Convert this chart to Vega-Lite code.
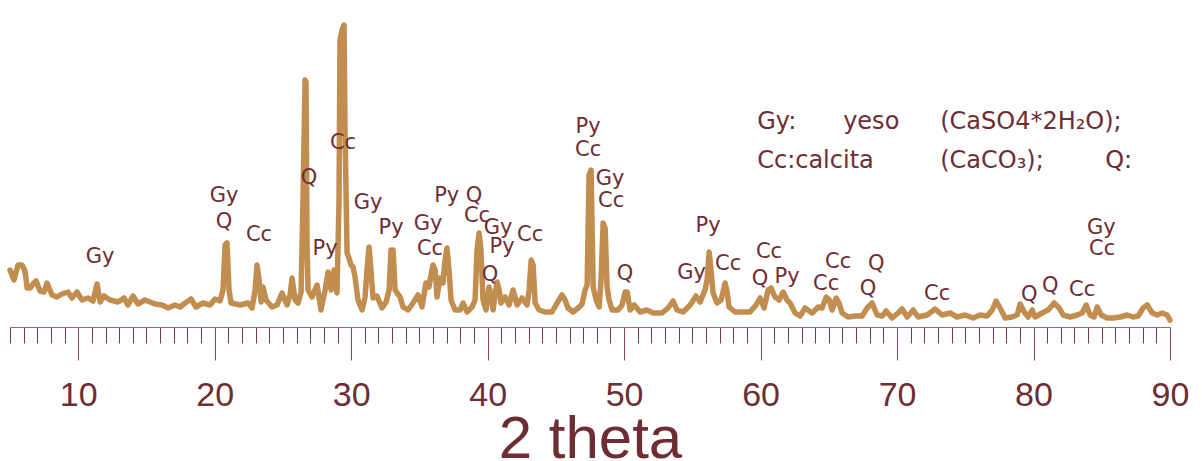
{
  "$schema": "https://vega.github.io/schema/vega-lite/v6.json",
  "width": 1160,
  "height": 316,
  "autosize": {"type": "none"},
  "padding": {"left": 10, "top": 11, "right": 32, "bottom": 134},
  "background": "#ffffff",
  "config": {"view": {"stroke": null}},
  "datasets": {
    "pattern": [
      {"t": 5.00, "i": 57}, {"t": 5.29, "i": 47}, {"t": 5.59, "i": 62}, {"t": 5.88, "i": 62}, {"t": 6.10, "i": 56},
      {"t": 6.25, "i": 39}, {"t": 6.47, "i": 39}, {"t": 6.69, "i": 43}, {"t": 6.91, "i": 46}, {"t": 7.20, "i": 36},
      {"t": 7.49, "i": 35}, {"t": 7.71, "i": 44}, {"t": 8.08, "i": 32}, {"t": 8.44, "i": 30}, {"t": 8.81, "i": 33},
      {"t": 9.25, "i": 35}, {"t": 9.54, "i": 29}, {"t": 9.91, "i": 35}, {"t": 10.28, "i": 27}, {"t": 10.72, "i": 29},
      {"t": 11.08, "i": 26}, {"t": 11.38, "i": 43}, {"t": 11.60, "i": 25}, {"t": 11.89, "i": 31}, {"t": 12.33, "i": 27},
      {"t": 12.92, "i": 25}, {"t": 13.35, "i": 29}, {"t": 13.65, "i": 22}, {"t": 14.01, "i": 31}, {"t": 14.38, "i": 23},
      {"t": 14.89, "i": 27}, {"t": 15.26, "i": 25}, {"t": 15.63, "i": 23}, {"t": 16.14, "i": 22}, {"t": 16.58, "i": 19},
      {"t": 17.09, "i": 22}, {"t": 17.46, "i": 20}, {"t": 17.83, "i": 24}, {"t": 18.26, "i": 28}, {"t": 18.63, "i": 20},
      {"t": 19.14, "i": 24}, {"t": 19.66, "i": 22}, {"t": 20.02, "i": 28}, {"t": 20.39, "i": 26}, {"t": 20.61, "i": 37},
      {"t": 20.76, "i": 82}, {"t": 20.90, "i": 84}, {"t": 21.05, "i": 37}, {"t": 21.20, "i": 24}, {"t": 21.86, "i": 22},
      {"t": 22.44, "i": 24}, {"t": 22.74, "i": 19}, {"t": 22.96, "i": 37}, {"t": 23.10, "i": 62}, {"t": 23.25, "i": 47},
      {"t": 23.40, "i": 25}, {"t": 23.54, "i": 40}, {"t": 23.76, "i": 27}, {"t": 24.20, "i": 20}, {"t": 24.57, "i": 22},
      {"t": 24.93, "i": 34}, {"t": 25.30, "i": 22}, {"t": 25.52, "i": 32}, {"t": 25.67, "i": 49}, {"t": 25.89, "i": 27},
      {"t": 26.11, "i": 24}, {"t": 26.33, "i": 35}, {"t": 26.47, "i": 127}, {"t": 26.62, "i": 247}, {"t": 26.69, "i": 245},
      {"t": 26.77, "i": 77}, {"t": 26.84, "i": 37}, {"t": 27.13, "i": 30}, {"t": 27.50, "i": 42}, {"t": 27.79, "i": 17},
      {"t": 28.09, "i": 37}, {"t": 28.31, "i": 55}, {"t": 28.53, "i": 37}, {"t": 28.75, "i": 57}, {"t": 28.96, "i": 34},
      {"t": 29.11, "i": 127}, {"t": 29.18, "i": 287}, {"t": 29.33, "i": 297}, {"t": 29.48, "i": 302}, {"t": 29.55, "i": 194},
      {"t": 29.70, "i": 74}, {"t": 29.84, "i": 69}, {"t": 29.99, "i": 62}, {"t": 30.14, "i": 60}, {"t": 30.28, "i": 50},
      {"t": 30.50, "i": 27}, {"t": 30.80, "i": 17}, {"t": 31.02, "i": 30}, {"t": 31.16, "i": 57}, {"t": 31.31, "i": 80},
      {"t": 31.45, "i": 57}, {"t": 31.60, "i": 29}, {"t": 31.89, "i": 31}, {"t": 32.26, "i": 19}, {"t": 32.56, "i": 25},
      {"t": 32.78, "i": 37}, {"t": 32.92, "i": 77}, {"t": 33.07, "i": 77}, {"t": 33.22, "i": 37}, {"t": 33.36, "i": 34},
      {"t": 33.58, "i": 30}, {"t": 33.80, "i": 20}, {"t": 34.17, "i": 17}, {"t": 34.53, "i": 24}, {"t": 34.90, "i": 32},
      {"t": 35.19, "i": 20}, {"t": 35.48, "i": 44}, {"t": 35.70, "i": 40}, {"t": 35.85, "i": 52}, {"t": 36.00, "i": 62},
      {"t": 36.15, "i": 57}, {"t": 36.29, "i": 30}, {"t": 36.51, "i": 49}, {"t": 36.73, "i": 44}, {"t": 36.88, "i": 67},
      {"t": 37.02, "i": 79}, {"t": 37.17, "i": 57}, {"t": 37.32, "i": 27}, {"t": 37.61, "i": 17}, {"t": 37.98, "i": 17},
      {"t": 38.20, "i": 24}, {"t": 38.49, "i": 15}, {"t": 38.86, "i": 20}, {"t": 39.08, "i": 27}, {"t": 39.22, "i": 77},
      {"t": 39.37, "i": 94}, {"t": 39.51, "i": 77}, {"t": 39.66, "i": 27}, {"t": 39.88, "i": 17}, {"t": 40.10, "i": 40},
      {"t": 40.25, "i": 32}, {"t": 40.40, "i": 17}, {"t": 40.54, "i": 32}, {"t": 40.69, "i": 45}, {"t": 40.84, "i": 37},
      {"t": 40.98, "i": 24}, {"t": 41.28, "i": 30}, {"t": 41.57, "i": 22}, {"t": 41.86, "i": 37}, {"t": 42.16, "i": 22},
      {"t": 42.52, "i": 29}, {"t": 42.89, "i": 22}, {"t": 43.04, "i": 37}, {"t": 43.19, "i": 67}, {"t": 43.33, "i": 62},
      {"t": 43.48, "i": 24}, {"t": 43.77, "i": 17}, {"t": 44.21, "i": 15}, {"t": 44.72, "i": 15}, {"t": 45.09, "i": 24},
      {"t": 45.45, "i": 32}, {"t": 45.67, "i": 27}, {"t": 45.89, "i": 19}, {"t": 46.26, "i": 15}, {"t": 46.63, "i": 19},
      {"t": 46.92, "i": 23}, {"t": 47.14, "i": 37}, {"t": 47.29, "i": 42}, {"t": 47.43, "i": 152}, {"t": 47.58, "i": 157},
      {"t": 47.73, "i": 40}, {"t": 47.95, "i": 27}, {"t": 48.17, "i": 20}, {"t": 48.31, "i": 47}, {"t": 48.46, "i": 104},
      {"t": 48.61, "i": 99}, {"t": 48.75, "i": 40}, {"t": 48.90, "i": 27}, {"t": 49.12, "i": 17}, {"t": 49.56, "i": 17},
      {"t": 49.85, "i": 22}, {"t": 50.07, "i": 35}, {"t": 50.22, "i": 35}, {"t": 50.44, "i": 17}, {"t": 50.74, "i": 22},
      {"t": 51.17, "i": 15}, {"t": 51.68, "i": 17}, {"t": 52.12, "i": 14}, {"t": 52.78, "i": 14}, {"t": 53.22, "i": 19},
      {"t": 53.59, "i": 26}, {"t": 53.88, "i": 17}, {"t": 54.32, "i": 15}, {"t": 54.84, "i": 22}, {"t": 55.27, "i": 31},
      {"t": 55.57, "i": 25}, {"t": 55.93, "i": 37}, {"t": 56.08, "i": 47}, {"t": 56.23, "i": 75}, {"t": 56.37, "i": 57},
      {"t": 56.52, "i": 34}, {"t": 56.81, "i": 24}, {"t": 57.11, "i": 27}, {"t": 57.40, "i": 44}, {"t": 57.55, "i": 35},
      {"t": 57.69, "i": 20}, {"t": 58.13, "i": 15}, {"t": 58.72, "i": 15}, {"t": 59.23, "i": 15}, {"t": 59.67, "i": 22},
      {"t": 59.96, "i": 29}, {"t": 60.26, "i": 19}, {"t": 60.55, "i": 37}, {"t": 60.77, "i": 39}, {"t": 61.06, "i": 30},
      {"t": 61.36, "i": 27}, {"t": 61.65, "i": 35}, {"t": 61.94, "i": 27}, {"t": 62.16, "i": 24}, {"t": 62.53, "i": 14},
      {"t": 62.90, "i": 11}, {"t": 63.26, "i": 19}, {"t": 63.78, "i": 14}, {"t": 64.22, "i": 20}, {"t": 64.51, "i": 19},
      {"t": 64.81, "i": 30}, {"t": 65.03, "i": 27}, {"t": 65.24, "i": 17}, {"t": 65.54, "i": 29}, {"t": 65.75, "i": 24},
      {"t": 65.97, "i": 14}, {"t": 66.41, "i": 10}, {"t": 66.93, "i": 11}, {"t": 67.44, "i": 11}, {"t": 67.81, "i": 19},
      {"t": 68.17, "i": 24}, {"t": 68.54, "i": 12}, {"t": 68.91, "i": 11}, {"t": 69.20, "i": 16}, {"t": 69.64, "i": 9},
      {"t": 70.08, "i": 14}, {"t": 70.37, "i": 18}, {"t": 70.74, "i": 10}, {"t": 71.18, "i": 17}, {"t": 71.54, "i": 10},
      {"t": 72.20, "i": 12}, {"t": 72.79, "i": 18}, {"t": 73.30, "i": 12}, {"t": 73.89, "i": 14}, {"t": 74.40, "i": 10},
      {"t": 74.99, "i": 12}, {"t": 75.57, "i": 9}, {"t": 76.09, "i": 12}, {"t": 76.60, "i": 11}, {"t": 76.97, "i": 17},
      {"t": 77.26, "i": 26}, {"t": 77.55, "i": 19}, {"t": 77.92, "i": 9}, {"t": 78.43, "i": 10}, {"t": 78.80, "i": 12},
      {"t": 79.02, "i": 23}, {"t": 79.32, "i": 15}, {"t": 79.61, "i": 10}, {"t": 79.90, "i": 17}, {"t": 80.12, "i": 10},
      {"t": 80.63, "i": 14}, {"t": 81.07, "i": 17}, {"t": 81.51, "i": 24}, {"t": 81.88, "i": 19}, {"t": 82.17, "i": 12},
      {"t": 82.69, "i": 10}, {"t": 83.20, "i": 12}, {"t": 83.56, "i": 14}, {"t": 83.86, "i": 22}, {"t": 84.15, "i": 12},
      {"t": 84.44, "i": 10}, {"t": 84.66, "i": 20}, {"t": 84.96, "i": 12}, {"t": 85.39, "i": 9}, {"t": 85.84, "i": 9},
      {"t": 86.35, "i": 10}, {"t": 86.86, "i": 12}, {"t": 87.30, "i": 10}, {"t": 87.67, "i": 11}, {"t": 88.03, "i": 19},
      {"t": 88.33, "i": 22}, {"t": 88.70, "i": 14}, {"t": 89.06, "i": 12}, {"t": 89.43, "i": 14}, {"t": 89.79, "i": 12},
      {"t": 90.00, "i": 7}
    ],
    "phases": [
      {"t": 11.60, "i": 70, "label": "Gy"},
      {"t": 20.68, "i": 131, "label": "Gy"},
      {"t": 20.68, "i": 105, "label": "Q"},
      {"t": 23.25, "i": 92, "label": "Cc"},
      {"t": 26.91, "i": 149, "label": "Q"},
      {"t": 29.40, "i": 184, "label": "Cc"},
      {"t": 28.09, "i": 78, "label": "Py"},
      {"t": 31.24, "i": 124, "label": "Gy"},
      {"t": 32.92, "i": 99, "label": "Py"},
      {"t": 35.63, "i": 103, "label": "Gy"},
      {"t": 35.78, "i": 78, "label": "Cc"},
      {"t": 37.00, "i": 131, "label": "Py"},
      {"t": 39.00, "i": 131, "label": "Q"},
      {"t": 39.22, "i": 111, "label": "Cc"},
      {"t": 40.76, "i": 99, "label": "Gy"},
      {"t": 41.06, "i": 80, "label": "Py"},
      {"t": 40.18, "i": 52, "label": "Q"},
      {"t": 43.11, "i": 92, "label": "Cc"},
      {"t": 47.36, "i": 200, "label": "Py"},
      {"t": 47.36, "i": 177, "label": "Cc"},
      {"t": 48.97, "i": 148, "label": "Gy"},
      {"t": 49.05, "i": 126, "label": "Cc"},
      {"t": 50.07, "i": 53, "label": "Q"},
      {"t": 54.95, "i": 54, "label": "Gy"},
      {"t": 56.15, "i": 101, "label": "Py"},
      {"t": 57.62, "i": 63, "label": "Cc"},
      {"t": 60.62, "i": 75, "label": "Cc"},
      {"t": 59.96, "i": 48, "label": "Q"},
      {"t": 61.94, "i": 50, "label": "Py"},
      {"t": 64.80, "i": 43, "label": "Cc"},
      {"t": 65.68, "i": 65, "label": "Cc"},
      {"t": 68.47, "i": 63, "label": "Q"},
      {"t": 67.88, "i": 38, "label": "Q"},
      {"t": 72.94, "i": 33, "label": "Cc"},
      {"t": 79.68, "i": 32, "label": "Q"},
      {"t": 81.22, "i": 41, "label": "Q"},
      {"t": 83.56, "i": 37, "label": "Cc"},
      {"t": 84.96, "i": 99, "label": "Gy"},
      {"t": 85.03, "i": 78, "label": "Cc"}
    ],
    "key": [
      {"t": 59.75, "i": 205, "label": "Gy:"},
      {"t": 66.05, "i": 205, "label": "yeso"},
      {"t": 73.16, "i": 205, "label": "(CaSO4*2H₂O);"},
      {"t": 59.75, "i": 166, "label": "Cc:calcita"},
      {"t": 73.16, "i": 166, "label": "(CaCO₃);"},
      {"t": 85.25, "i": 166, "label": "Q:"}
    ]
  },
  "resolve": {"axis": {"x": "independent"}},
  "layer": [
    {
      "data": {"name": "pattern"},
      "mark": {"type": "line", "color": "#C18E50", "strokeWidth": 5.5, "strokeJoin": "round", "strokeCap": "round"},
      "encoding": {
        "x": {
          "field": "t",
          "type": "quantitative",
          "scale": {"domain": [5, 90], "nice": false, "zero": false},
          "axis": {
            "orient": "bottom",
            "title": "2 theta",
            "titleFont": "Liberation Sans",
            "titleFontSize": 60,
            "titleFontWeight": "normal",
            "titleColor": "#6E2D32",
            "titleBaseline": "alphabetic",
            "titleY": 130,
            "grid": false,
            "domainColor": "#9B6A6E",
            "domainWidth": 1,
            "tickColor": "#8A4E54",
            "tickWidth": 1,
            "tickSize": 33,
            "values": [10, 20, 30, 40, 50, 60, 70, 80, 90],
            "labelOverlap": false,
            "labelFlush": false,
            "labelFont": "Liberation Sans",
            "labelFontSize": 34,
            "labelColor": "#6E2D32",
            "labelPadding": 18
          }
        },
        "y": {
          "field": "i",
          "type": "quantitative",
          "scale": {"domain": [0, 316], "nice": false},
          "axis": {"title": null, "ticks": false, "labels": false, "grid": false, "domainColor": "#9B6A6E", "domainWidth": 1}
        }
      }
    },
    {
      "data": {"name": "phases"},
      "mark": {"type": "text", "font": "DejaVu Sans", "fontSize": 21, "color": "#6E2D32", "align": "center", "baseline": "middle"},
      "encoding": {
        "x": {
          "field": "t",
          "type": "quantitative",
          "axis": {
            "orient": "bottom",
            "title": null,
            "grid": false,
            "domain": false,
            "labels": false,
            "tickColor": "#7A3C42",
            "tickWidth": 1,
            "tickSize": 16,
            "values": [5,6,7,8,9,11,12,13,14,15,16,17,18,19,21,22,23,24,25,26,27,28,29,31,32,33,34,35,36,37,38,39,41,42,43,44,45,46,47,48,49,51,52,53,54,55,56,57,58,59,61,62,63,64,65,66,67,68,69,71,72,73,74,75,76,77,78,79,81,82,83,84,85,86,87,88,89]
          }
        },
        "y": {"field": "i", "type": "quantitative", "axis": null},
        "text": {"field": "label"}
      }
    },
    {
      "data": {"name": "key"},
      "mark": {"type": "text", "font": "DejaVu Sans", "fontSize": 24, "color": "#6E2D32", "align": "left", "baseline": "middle"},
      "encoding": {
        "x": {"field": "t", "type": "quantitative", "axis": null},
        "y": {"field": "i", "type": "quantitative", "axis": null},
        "text": {"field": "label"}
      }
    }
  ]
}
